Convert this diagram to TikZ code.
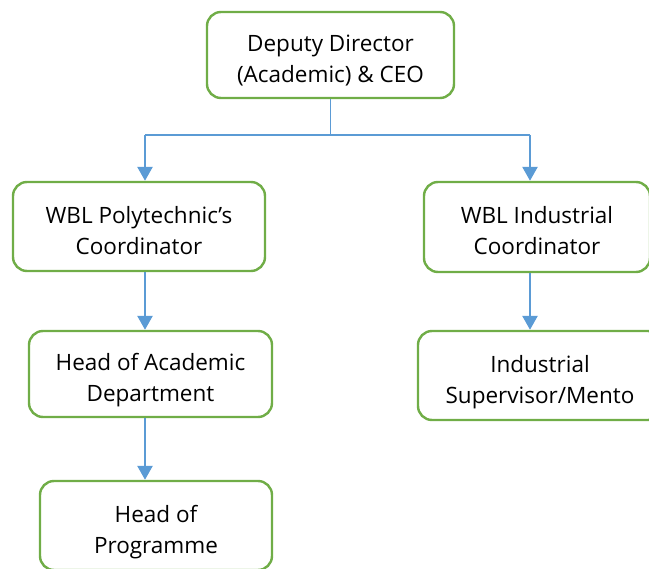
\documentclass[tikz,border=0pt]{standalone}
\usepackage{fontspec}
\setmainfont{Open Sans}
\usetikzlibrary{arrows.meta}
\definecolor{boxgreen}{HTML}{70AD47}
\definecolor{linkblue}{HTML}{5B9BD5}
\tikzset{
	box/.style={draw=boxgreen,line width=2.4pt,rounded corners=14pt,align=center,inner sep=0pt,font=\fontsize{22.5}{31}\selectfont,text height=62pt,text depth=6pt},
	link/.style={draw=linkblue,line width=2.6pt,-{Triangle[length=14pt,width=15pt]}},
	bus/.style={draw=linkblue,line width=1.3pt},
}
\begin{document}
\begin{tikzpicture}[x=1pt,y=-1pt]
		\path[use as bounding box,clip] (0,0) rectangle (649,569);
		\node[box,minimum width=247,minimum height=86] (dd) at (330.5,55) {Deputy Director\\(Academic) \& CEO};
		\node[box,minimum width=252,minimum height=89] (pc) at (139,226.5) {WBL Polytechnic’s\\Coordinator};
		\node[box,minimum width=226,minimum height=90] (ic) at (537,227) {WBL Industrial\\Coordinator};
		\node[box,minimum width=243,minimum height=86] (had) at (150.5,374) {Head of Academic\\Department};
		\node[box,minimum width=244,minimum height=89] (isup) at (540,375.5) {Industrial\\Supervisor/Mento};
		\node[box,minimum width=232,minimum height=89] (hop) at (156,525.5) {Head of\\Programme};
		% connectors
		\coordinate (jl) at (145,135);
		\coordinate (jr) at (530,135);
		\draw[bus] (dd.south) -- (dd.south |- jl);
		\draw[bus] (jl) -- (jr);
		\draw[link] (jl) -- (jl |- pc.north);
		\draw[link] (jr) -- (jr |- ic.north);
		\draw[link] (pc.south -| jl) -- (had.north -| jl);
		\draw[link] (had.south -| jl) -- (hop.north -| jl);
		\draw[link] (ic.south -| jr) -- (isup.north -| jr);
\end{tikzpicture}
\end{document}
